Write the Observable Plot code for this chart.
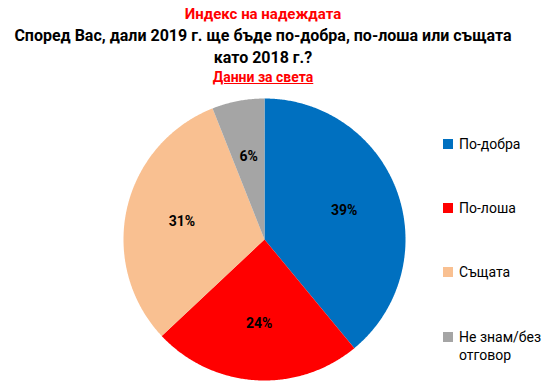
<!DOCTYPE html>
<html>
<head>
<meta charset="utf-8">
<script src="https://cdn.jsdelivr.net/npm/d3@7"></script>
<script src="https://cdn.jsdelivr.net/npm/@observablehq/plot@0.6"></script>
<style>
  html, body { margin: 0; padding: 0; background: #fff; }
  #wrap { position: relative; width: 560px; height: 387px; overflow: hidden; font-family: Roboto, "Noto Sans", sans-serif; }
  .t { position: absolute; left: 0; width: 526px; text-align: center; font-weight: bold; white-space: nowrap; }
  #chart { position: absolute; left: 119px; top: 94px; }
  .leg { position: absolute; left: 443px; font-size: 14px; color: #000; line-height: 18px; }
  .sw { position: absolute; left: 0; top: 4px; width: 10px; height: 10px; }
  .lt { margin-left: 16px; display: block; }
</style>
</head>
<body>
<div id="wrap">
  <div class="t" id="t1" style="top:5px;font-size:15px;color:#ff0000;">Индекс на надеждата</div>
  <div class="t" id="t2" style="top:26px;font-size:16px;color:#000;">Според Вас, дали 2019 г. ще бъде по-добра, по-лоша или същата</div>
  <div class="t" id="t3" style="top:48px;font-size:16px;color:#000;">като 2018 г.?</div>
  <div class="t" id="t4" style="top:69px;font-size:14px;color:#ff0000;text-decoration:underline;">Данни за света</div>
  <div id="chart"></div>
  <div id="legend"></div>
</div>
<script>
const categories = ["По-добра", "По-лоша", "Същата", "Не знам/без отговор"];
const values = [39, 24, 31, 6];
const colors = ["#0070C0", "#FF0000", "#F9C091", "#A5A5A5"];

// build slice polygons from values (clockwise from 12 o'clock)
const total = d3.sum(values);
const pts = [];
const labels = [];
let acc = 0;
categories.forEach((c, i) => {
  const a0 = acc / total * 2 * Math.PI;
  acc += values[i];
  const a1 = acc / total * 2 * Math.PI;
  pts.push({cat: c, x: 0, y: 0});
  const n = Math.max(2, Math.ceil((a1 - a0) / (Math.PI / 360)));
  for (let k = 0; k <= n; k++) {
    const a = a0 + (a1 - a0) * k / n;
    pts.push({cat: c, x: Math.sin(a), y: Math.cos(a)});
  }
  pts.push({cat: c, x: 0, y: 0});
  const am = (a0 + a1) / 2;
  const lr = 0.6;
  labels.push({cat: c, x: lr * Math.sin(am), y: lr * Math.cos(am), text: values[i] + "%"});
});

const plot = Plot.plot({
  width: 290,
  height: 290,
  margin: 4,
  x: {domain: [-1, 1], axis: null},
  y: {domain: [-1, 1], axis: null},
  color: {domain: categories, range: colors},
  style: {fontFamily: "Roboto, 'Noto Sans', sans-serif", background: "transparent"},
  marks: [
    Plot.line(pts, {x: "x", y: "y", z: "cat", fill: "cat", stroke: "none", curve: "linear"}),
    Plot.text(labels, {x: "x", y: "y", text: "text", fontSize: 14, fontWeight: "bold", fill: "#000"})
  ]
});
document.getElementById("chart").appendChild(plot);

const legendTops = [135, 199, 263, 328];
const lg = document.getElementById("legend");
categories.forEach((c, i) => {
  const d = document.createElement("div");
  d.className = "leg";
  d.style.top = legendTops[i] + "px";
  d.style.width = "110px";
  const sw = document.createElement("div");
  sw.className = "sw";
  sw.style.background = colors[i];
  const t = document.createElement("span");
  t.className = "lt";
  t.textContent = c;
  d.appendChild(sw);
  d.appendChild(t);
  lg.appendChild(d);
});
</script>
</body>
</html>
